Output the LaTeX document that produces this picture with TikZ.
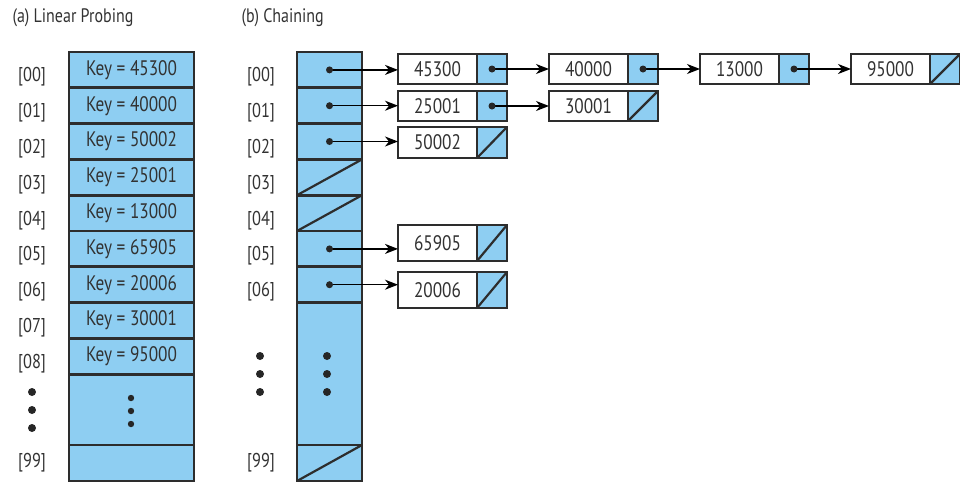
\documentclass[tikz,border=0pt]{standalone}
\usepackage{fontspec}
\setmainfont{PT Sans}[FakeStretch=0.82]
\usetikzlibrary{arrows.meta}
\definecolor{cellblue}{RGB}{142,206,242}
\definecolor{edgec}{RGB}{45,45,45}
\definecolor{txt}{RGB}{50,50,50}
\newcommand\lnode[5]{%
  \node[kbox, minimum height=#4, anchor=north west] (#1k) at (#2,#3) {#5};
  \node[pbox, minimum height=#4, anchor=north west] (#1p) at ({#2+79},#3) {};
}
\begin{document}
\begin{tikzpicture}[x=1pt,y=-1pt,
  every node/.style={text=txt},
  cellbase/.style={draw=edgec, line width=2.7pt, fill=cellblue, inner sep=0pt, outer sep=0pt},
  lcell/.style={cellbase, minimum width=125, minimum height=35.8, font=\fontsize{21}{24}\selectfont},
  rcell/.style={cellbase, minimum width=65, minimum height=35.8},
  kbox/.style={draw=edgec, line width=2.5pt, fill=white, minimum width=79, inner sep=0pt, outer sep=0pt, font=\fontsize{21}{24}\selectfont},
  pbox/.style={draw=edgec, line width=2.5pt, fill=cellblue, minimum width=30, inner sep=0pt, outer sep=0pt},
  idx/.style={font=\fontsize{20}{23}\selectfont},
  ttl/.style={font=\fontsize{19.5}{22}\selectfont, anchor=west},
  arr/.style={draw=black, line width=1.3pt, -{Stealth[length=13pt,width=10pt,inset=4pt]}},
  slash/.style={draw=edgec, line width=2.2pt},
  ptrdot/.style={fill=black!85}
]
\useasboundingbox (0,0) rectangle (960,483);

% titles
\node[ttl] (ta) at (9,18) {(a) Linear Probing};
\node[ttl] (tb) at (238,18) {(b) Chaining};

% (a) linear probing table
\foreach \k [count=\j from 0] in {45300,40000,50002,25001,13000,65905,20006,30001,95000} {
  \node[lcell, anchor=north west] (L\j) at (69,{52+35.8*\j}) {Key = \k};
  \node[idx] (LI\j) at (32,{52+35.8*\j+25}) {[0\j]};
}
\node[lcell, anchor=north west, minimum height=70.8] (Lgap) at (69,374.2) {};
\node[lcell, anchor=north west, minimum height=36] (L99) at (69,445) {};
\node[idx] (LI99) at (32,463) {[99]};
\foreach \yy in {392,410,428} \fill[black!85] (32,\yy) circle (4);
\foreach \yy in {398,411,424} \fill[black!85] (131,\yy) circle (3.2);

% (b) chaining table
\foreach \j in {0,...,6} {
  \node[rcell, anchor=north west] (R\j) at (297,{52+35.8*\j}) {};
  \node[idx] (RI\j) at (261,{52+35.8*\j+25}) {[0\j]};
}
\node[rcell, anchor=north west, minimum height=142.4] (Rgap) at (297,302.6) {};
\node[rcell, anchor=north west, minimum height=36] (R99) at (297,445) {};
\node[idx] (RI99) at (261,463) {[99]};
\foreach \n in {R3,R4,R99} \draw[slash] (\n.south west) -- (\n.north east);
\foreach \yy in {356,374,392} {
  \fill[black!85] (260,\yy) circle (4);
  \fill[black!85] (327,\yy) circle (4);
}

% chains
\lnode{A1}{398}{54}{30}{45300}
\lnode{A2}{549}{54}{30}{40000}
\lnode{A3}{700}{54}{30}{13000}
\lnode{A4}{851}{54}{30}{95000}
\lnode{B1}{398}{91}{30}{25001}
\lnode{B2}{549}{91}{30}{30001}
\lnode{C1}{398}{127}{31}{50002}
\lnode{D1}{398}{225}{36}{65905}
\lnode{E1}{398}{272}{36}{20006}

\foreach \n in {A4p,B2p,C1p,D1p,E1p} \draw[slash] (\n.south west) -- (\n.north east);

% connectors
\draw[arr] (R0.center) -- (R0.center -| A1k.west);
\draw[arr] (R1.center) -- (R1.center -| B1k.west);
\draw[arr] (R2.center) -- (R2.center -| C1k.west);
\draw[arr] (R5.center) -- (R5.center -| D1k.west);
\draw[arr] (R6.center) -- (R6.center -| E1k.west);
\draw[arr] (A1p.center) -- (A2k.west);
\draw[arr] (A2p.center) -- (A3k.west);
\draw[arr] (A3p.center) -- (A4k.west);
\draw[arr] (B1p.center) -- (B2k.west);

\foreach \n in {R0,R1,R2,R5,R6,A1p,A2p,A3p,B1p} \fill[ptrdot] (\n.center) circle (3.5);
\end{tikzpicture}
\end{document}
